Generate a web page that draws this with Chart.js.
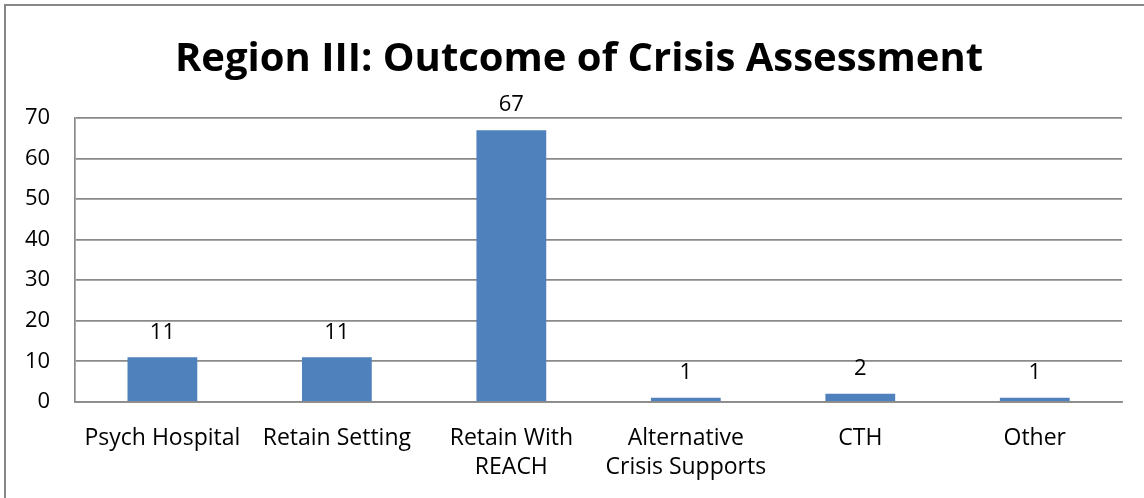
<!DOCTYPE html>
<html>
<head>
<meta charset="utf-8">
<script src="https://cdn.jsdelivr.net/npm/chart.js@4"></script>
<style>
  html, body { margin: 0; padding: 0; background: #fff; }
  #wrap { position: relative; width: 1144px; height: 498px; overflow: hidden; }
  #frame { position: absolute; left: 4px; top: 4px; width: 1200px; height: 600px;
           border-left: 2px solid #878787; border-top: 2px solid #878787; pointer-events: none; }
</style>
</head>
<body>
<div id="wrap">
  <canvas id="grafico"></canvas>
  <div id="frame"></div>
</div>
<script>
// dados do grafico
const categorias = ['Psych Hospital', 'Retain Setting', ['Retain With', 'REACH'], ['Alternative', 'Crisis Supports'], 'CTH', 'Other'];
const valores = [11, 11, 67, 1, 2, 1];
const tituloGrafico = 'Region III: Outcome of Crisis Assessment';
const eixoYMax = 70;
const eixoYPasso = 10;

const fonte = "'Open Sans', 'Noto Sans', sans-serif";

// rotulos de valor acima das barras
const rotulosValor = {
  id: 'rotulosValor',
  afterDatasetsDraw(chart) {
    const ctx = chart.ctx;
    const meta = chart.getDatasetMeta(0);
    ctx.save();
    ctx.font = '22px ' + fonte;
    ctx.fillStyle = '#000';
    ctx.textAlign = 'center';
    ctx.textBaseline = 'bottom';
    meta.data.forEach((bar, i) => {
      ctx.fillText(String(valores[i]), bar.x, bar.y - 14);
    });
    ctx.restore();
  }
};

// o titulo no original fica um pouco deslocado para a direita
const deslocaTitulo = {
  id: 'deslocaTitulo',
  afterLayout(chart) {
    if (chart.titleBlock) chart.titleBlock.left += 36;
  }
};

const ctx = document.getElementById('grafico').getContext('2d');
const grafico = new Chart(ctx, {
  type: 'bar',
  data: {
    labels: categorias,
    datasets: [{
      data: valores,
      backgroundColor: '#4F81BD',
      barPercentage: 0.4,
      categoryPercentage: 1.0
    }]
  },
  options: {
    responsive: true,
    maintainAspectRatio: false,
    animation: false,
    layout: { padding: { left: 0, right: 22, top: 22, bottom: -6 } },
    scales: {
      y: {
        min: 0,
        max: eixoYMax,
        ticks: { stepSize: eixoYPasso, color: '#000', padding: 25, font: { family: fonte, size: 22 } },
        grid: { color: '#8a8a8a', lineWidth: 1.7, drawTicks: false },
        border: { color: '#8a8a8a', width: 1.7 }
      },
      x: {
        ticks: { color: '#000', padding: 23, maxRotation: 0, autoSkip: false, font: { family: fonte, size: 23, lineHeight: 1.22 } },
        grid: { display: false, drawTicks: false },
        border: { color: '#8a8a8a', width: 1.7 }
      }
    },
    plugins: {
      legend: { display: false },
      tooltip: { enabled: false },
      title: {
        display: true,
        text: tituloGrafico,
        color: '#000',
        font: { family: fonte, size: 40, weight: 'bold' },
        padding: { top: 14, bottom: 34 }
      }
    }
  },
  plugins: [rotulosValor, deslocaTitulo]
});
</script>
</body>
</html>
